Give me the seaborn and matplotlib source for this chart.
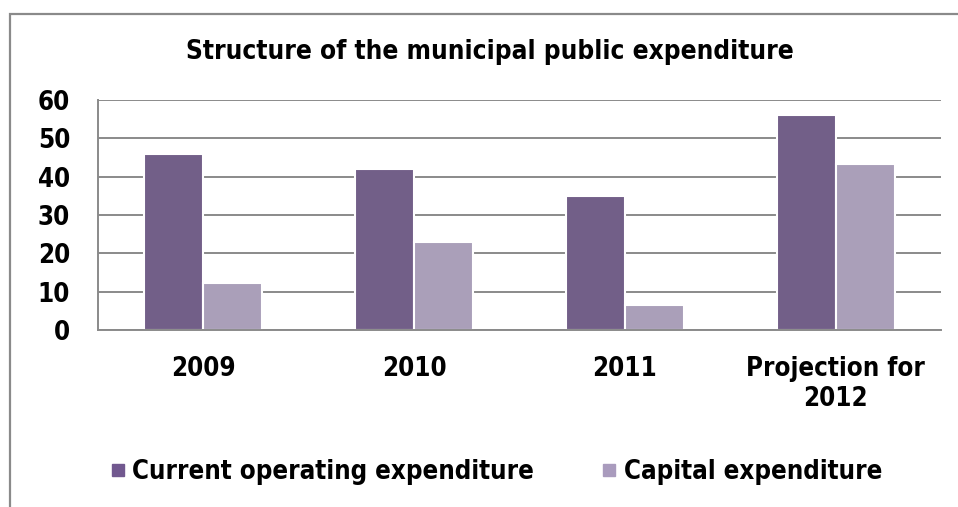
# Structure of the municipal public expenditure - bar chart recreation
import pandas as pd
import numpy as np
import matplotlib.pyplot as plt
import seaborn as sns
from matplotlib import font_manager
from matplotlib.patches import Rectangle
from matplotlib.lines import Line2D

# Data
years = ['2009', '2010', '2011', 'Projection for\n2012']
current_operating = [45.8, 42.0, 35.0, 56.1]
capital = [12.3, 23.0, 6.6, 43.2]
series_names = ['Current operating expenditure', 'Capital expenditure']
colors = ['#71588F', '#A99BBD']

df = pd.DataFrame({
    'year': years * 2,
    'value': current_operating + capital,
    'series': [series_names[0]] * len(years) + [series_names[1]] * len(years),
})

sns.set_style('white')
plt.rcParams['font.family'] = ['DejaVu Sans']
plt.rcParams['font.weight'] = 'bold'
plt.rcParams['text.color'] = 'black'
plt.rcParams['xtick.color'] = 'black'
plt.rcParams['ytick.color'] = 'black'

# use the condensed cut if it is installed (closer to Tahoma bold)
fp = font_manager.FontProperties(family='DejaVu Sans', weight='bold', stretch='condensed')
condensed = 'Condensed' in font_manager.findfont(fp)
plt.rcParams['font.stretch'] = 'condensed' if condensed else 'normal'
k = 1.0 if condensed else 0.9

fig = plt.figure(figsize=(9.58, 5.07), dpi=100)
ax = fig.add_axes([0.1023, 0.349, 0.88, 0.4538])

sns.barplot(data=df, x='year', y='value', hue='series', palette=colors,
            width=0.56, edgecolor='white', linewidth=1.5, ax=ax, legend=False)

grey = '#8a8a8a'
ax.set_ylim(0, 60)
ax.set_xlim(-0.5, 3.5)
ax.set_yticks(np.arange(0, 61, 10))
ax.yaxis.grid(True, color=grey, linewidth=1.4)
ax.set_axisbelow(True)
for s in ['top', 'right']:
    ax.spines[s].set_visible(False)
for s in ['left', 'bottom']:
    ax.spines[s].set_color(grey)
    ax.spines[s].set_linewidth(1.4)
ax.tick_params(axis='y', length=9, width=1.4, color=grey, labelsize=18.5 * k, pad=11,
               labelcolor='black')
ax.tick_params(axis='x', length=0, labelsize=18.5 * k, pad=19, labelcolor='black')
ax.set_xticks(np.arange(-0.5, 3.6, 1), minor=True)
ax.tick_params(axis='x', which='minor', length=7, width=1.4, color=grey)
for lbl in ax.get_xticklabels() + ax.get_yticklabels():
    lbl.set_fontweight('bold')
ax.set_xlabel('')
ax.set_ylabel('')

fig.text(0.511, 1 - 52 / 507, 'Structure of the municipal public expenditure',
         ha='center', va='center', fontsize=18.8 * k, fontweight='bold')

handles = [Line2D([0], [0], marker='s', linestyle='', markersize=8.5,
                  markerfacecolor=c, markeredgecolor=c) for c in colors]
fig.legend(handles, series_names, loc='center', bbox_to_anchor=(0.517, 1 - 472 / 507),
           ncol=2, frameon=False, handletextpad=0.2, columnspacing=2.6,
           handlelength=0.7, prop={'weight': 'bold', 'size': 18.5 * k,
                                   'stretch': 'condensed' if condensed else 'normal'})

# outer chart border (runs off the right and bottom edges like the reference)
fig.patches.append(Rectangle((10 / 958, -0.05), 1.2, 1 - 14 / 507 + 0.05,
                             transform=fig.transFigure, fill=False,
                             edgecolor=grey, linewidth=1.6))

fig.savefig('out.png', dpi=100)
